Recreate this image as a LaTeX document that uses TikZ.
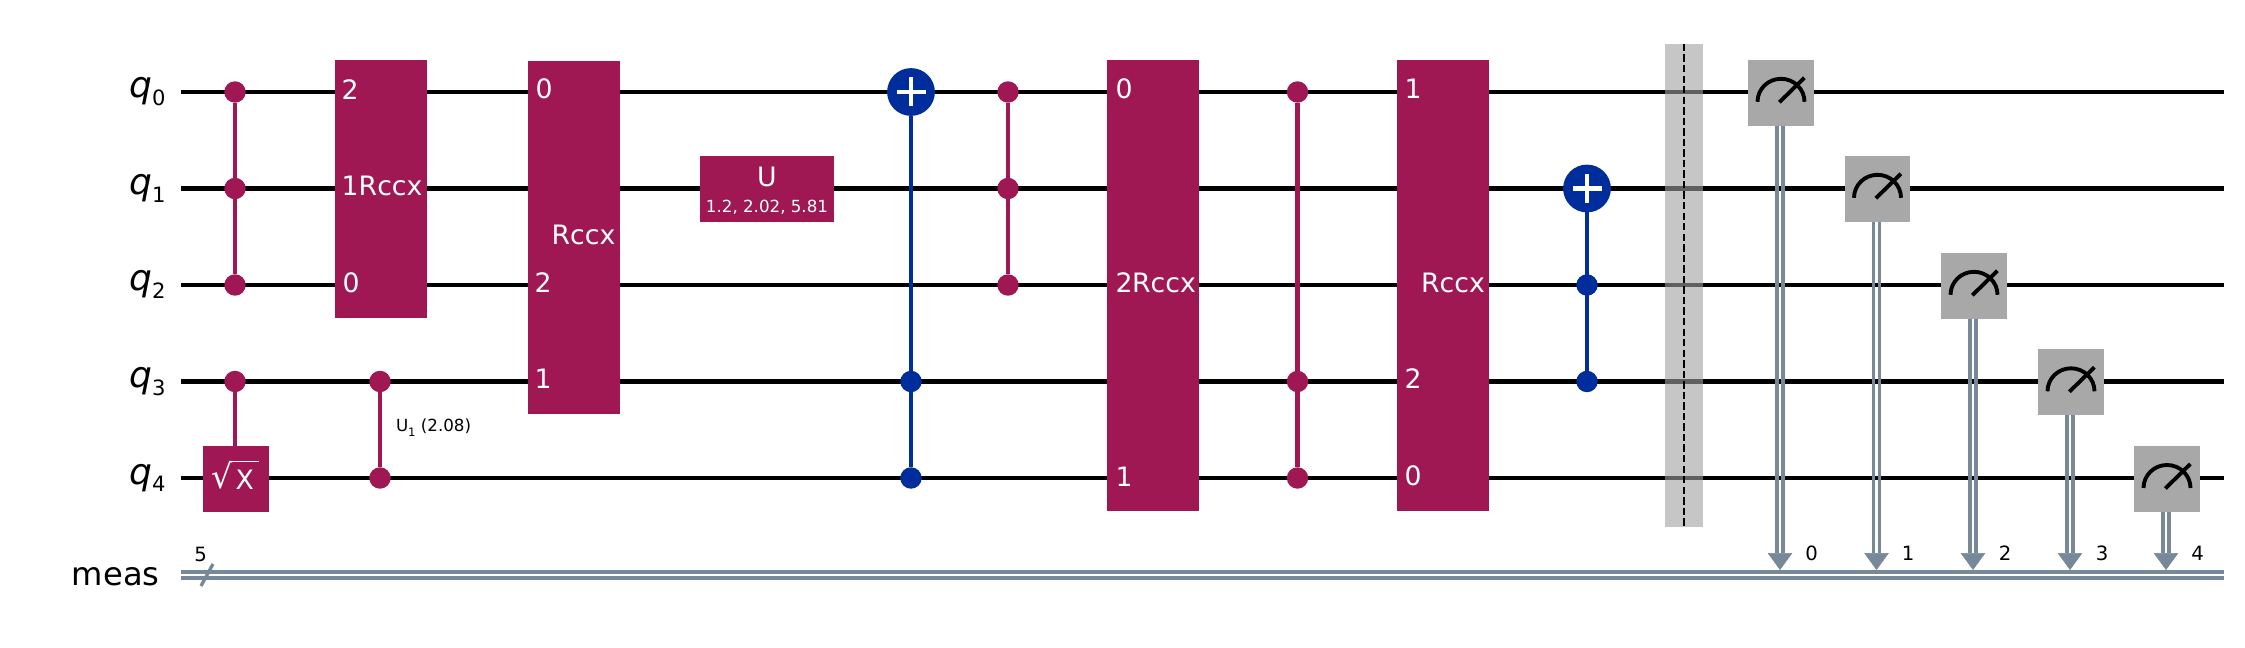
\documentclass[tikz,border=0pt]{standalone}
\usepackage{fontspec}
\setmainfont{DejaVu Sans}
\usetikzlibrary{arrows.meta,calc}
\definecolor{gatemag}{HTML}{9F1853}
\definecolor{gateblue}{HTML}{002D9C}
\definecolor{slate}{HTML}{778899}
\definecolor{meterg}{HTML}{A8A8A8}
\newcommand{\szLab}{\fontsize{18.3}{20}\selectfont}
\newcommand{\szQ}{\fontsize{20.5}{22}\selectfont}
\newcommand{\szSub}{\fontsize{12}{14}\selectfont}
\newcommand{\szGate}{\fontsize{15.2}{17}\selectfont}
\newcommand{\szSmall}{\fontsize{9.5}{11}\selectfont}
\newcommand{\szNum}{\fontsize{11.2}{13}\selectfont}
\newcommand{\qlab}[1]{{\szQ\itshape q}\raisebox{-0.45ex}{\szSub #1}}
\tikzset{
  x=0.02cm,y=-0.02cm,
  wire/.style={line width=2.4pt,black},
  cwire/.style={line width=2.2pt,slate},
  mline/.style={line width=2.4pt,gatemag},
  bline/.style={line width=2.4pt,gateblue},
  dotm/.style={circle,fill=gatemag,inner sep=0pt,outer sep=0pt,minimum size=12.2pt},
  dotb/.style={circle,fill=gateblue,inner sep=0pt,outer sep=0pt,minimum size=12.2pt},
  target/.style={circle,fill=gateblue,inner sep=0pt,outer sep=0pt,minimum size=27.2pt},
  plusbar/.style={line width=2.8pt,white},
  gatebox/.style={rectangle,fill=gatemag,inner sep=0pt,outer sep=0pt,text=white},
  metbox/.style={rectangle,fill=meterg,inner sep=0pt,outer sep=0pt,minimum width=37.4pt,minimum height=37.4pt},
  metline/.style={line width=2.2pt,black},
  gtext/.style={inner sep=0pt,outer sep=0pt,text=white,font=\szGate},
  stext/.style={inner sep=0pt,outer sep=0pt,text=white,font=\szSmall},
  numtext/.style={inner sep=0pt,outer sep=0pt,text=black,font=\szNum},
  wlabel/.style={inner sep=0pt,outer sep=0pt,anchor=base east,text=black,font=\szLab},
  tiphead/.style={line width=0.3pt,slate,-{Triangle[length=9.6pt,width=13.9pt,sep=0pt]}},
}
\begin{document}
\begin{tikzpicture}
\useasboundingbox (0,0) rectangle (2245,648);
% wires
\foreach \n/\y in {0/92,1/188.5,2/285,3/381.5,4/478}{
  \coordinate (ws\n) at (181,\y);
  \coordinate (we\n) at (2224,\y);
  \draw[wire] (ws\n) -- (we\n);
}
\coordinate (cs1) at (181,572); \coordinate (ce1) at (2224,572);
\coordinate (cs2) at (181,577.8); \coordinate (ce2) at (2224,577.8);
\draw[cwire] (cs1) -- (ce1);
\draw[cwire] (cs2) -- (ce2);
% labels
\node[wlabel] (l0) at (165.5,98) {\qlab{0}};
\node[wlabel] (l1) at (165.5,194.5) {\qlab{1}};
\node[wlabel] (l2) at (165.5,291) {\qlab{2}};
\node[wlabel] (l3) at (165.5,387.5) {\qlab{3}};
\node[wlabel] (l4) at (165.5,484) {\qlab{4}};
\node[wlabel] (lm) at (159.5,585) {meas};
\coordinate (sl1) at (201,586); \coordinate (sl2) at (213,564);
\draw[line width=1.9pt,slate] (sl1) -- (sl2);
\node[numtext] (five) at (200.7,554) {5};
% first CCZ
\node[dotm] (a0) at (235,92) {};
\node[dotm] (a1) at (235,188.5) {};
\node[dotm] (a2) at (235,285) {};
\draw[mline] (a0) -- (a2);
% sqrt X
\node[dotm] (b3) at (235,381.5) {};
\node[gatebox,minimum width=37.4pt,minimum height=37.4pt] (sx) at (236,478.7) {};
\draw[mline] (b3) -- (b3 |- sx.north);
\node[gtext,anchor=base,font=\fontsize{19}{20}\selectfont] (sxr) at (222.5,488) {√};
\node[gtext,anchor=base] (sxt) at (244.7,489) {X};
\coordinate (sb1) at (229.5,461.5); \coordinate (sb2) at (258.5,461.5);
\draw[line width=0.7pt,white] (sb1) -- (sb2);
% Rccx 1
\node[gatebox,minimum width=52.2pt,minimum height=146.7pt] (r1) at (381,189.3) {};
\node[gtext] (r1a) at (350,90) {2};
\node[gtext] (r1b) at (350,186) {1};
\node[gtext] (r1t) at (390.6,186) {Rccx};
\node[gtext] (r1c) at (351,283) {0};
% CU1
\node[dotm] (c3) at (380,381.5) {};
\node[dotm] (c4) at (380,478) {};
\draw[mline] (c3) -- (c4);
\node[inner sep=0pt,outer sep=0pt,anchor=base west,font=\szSmall] (c1t) at (396,432) {U\raisebox{-0.5ex}{\fontsize{6.6}{7}\selectfont 1} (2.08)};
% Rccx 2
\node[gatebox,minimum width=52.2pt,minimum height=201.3pt] (r2) at (574,237.5) {};
\node[gtext] (r2a) at (544,89) {0};
\node[gtext] (r2t) at (583.5,234.6) {Rccx};
\node[gtext] (r2b) at (543,283) {2};
\node[gtext] (r2c) at (543,379) {1};
% U
\node[gatebox,minimum width=76.2pt,minimum height=37.4pt] (u) at (767,189) {};
\node[gtext] (ut) at (767,177) {U};
\node[stext] (up) at (767,207) {1.2, 2.02, 5.81};
% CCX 1
\node[target] (t1) at (911,92) {};
\node[dotb] (d3) at (911,381.5) {};
\node[dotb] (d4) at (911,478) {};
\draw[bline] (t1) -- (d4);
\draw[plusbar] ($(t1)+(-14.5,0)$) -- ($(t1)+(14.5,0)$);
\draw[plusbar] ($(t1)+(0,-14.5)$) -- ($(t1)+(0,14.5)$);
% CCZ 2
\node[dotm] (e0) at (1008,92) {};
\node[dotm] (e1) at (1008,188.5) {};
\node[dotm] (e2) at (1008,285) {};
\draw[mline] (e0) -- (e2);
% Rccx 3
\node[gatebox,minimum width=52.2pt,minimum height=256.2pt] (r3) at (1153,285.5) {};
\node[gtext] (r3a) at (1124,89) {0};
\node[gtext] (r3b) at (1124,283) {2};
\node[gtext] (r3t) at (1164,283) {Rccx};
\node[gtext] (r3c) at (1124,477) {1};
% CCZ 3
\node[dotm] (f0) at (1297.5,92) {};
\node[dotm] (f3) at (1297.5,381.5) {};
\node[dotm] (f4) at (1297.5,478) {};
\draw[mline] (f0) -- (f4);
% Rccx 4
\node[gatebox,minimum width=52.2pt,minimum height=256.2pt] (r4) at (1443,285.5) {};
\node[gtext] (r4a) at (1413,89) {1};
\node[gtext] (r4t) at (1453,283) {Rccx};
\node[gtext] (r4b) at (1413,379) {2};
\node[gtext] (r4c) at (1413,476) {0};
% CCX 2
\node[target] (t2) at (1587,188.5) {};
\node[dotb] (g2) at (1587,285) {};
\node[dotb] (g3) at (1587,381.5) {};
\draw[bline] (t2) -- (g3);
\draw[plusbar] ($(t2)+(-14.5,0)$) -- ($(t2)+(14.5,0)$);
\draw[plusbar] ($(t2)+(0,-14.5)$) -- ($(t2)+(0,14.5)$);
% barrier
\node[rectangle,fill={rgb,255:red,160;green,160;blue,160},fill opacity=0.6,inner sep=0pt,outer sep=0pt,minimum width=21.4pt,minimum height=274.8pt] (bar) at (1684,285.3) {};
\draw[line width=1.1pt,black,dash pattern=on 4.2pt off 1.8pt] (bar.north) -- (bar.south);
% measures
\foreach \n/\x/\y/\lx in {0/1781/92.8/1811.5,1/1877.5/188.8/1908,2/1974/285.8/2005,3/2071/382.3/2102,4/2167/479/2197.5}{
  \node[metbox] (m\n) at (\x,\y) {};
  \draw[metline] ($(m\n)+(-23.5,9)$) arc[start angle=180,end angle=0,x radius=23.5,y radius=-23];
  \draw[metline] ($(m\n)+(-1.7,9.5)$) -- ($(m\n)+(23.3,-15)$);
  \coordinate (h\n) at (\x-1,553);
  \coordinate (p\n) at (\x-1,570);
  \draw[cwire] ([xshift=-0.06cm]m\n.south -| h\n) -- ([xshift=-0.06cm]h\n);
  \draw[cwire] ([xshift=0.06cm]m\n.south -| h\n) -- ([xshift=0.06cm]h\n);
  \draw[tiphead] (h\n) -- (p\n);
  \node[numtext] (n\n) at (\lx,553) {\n};
}
\end{tikzpicture}
\end{document}
